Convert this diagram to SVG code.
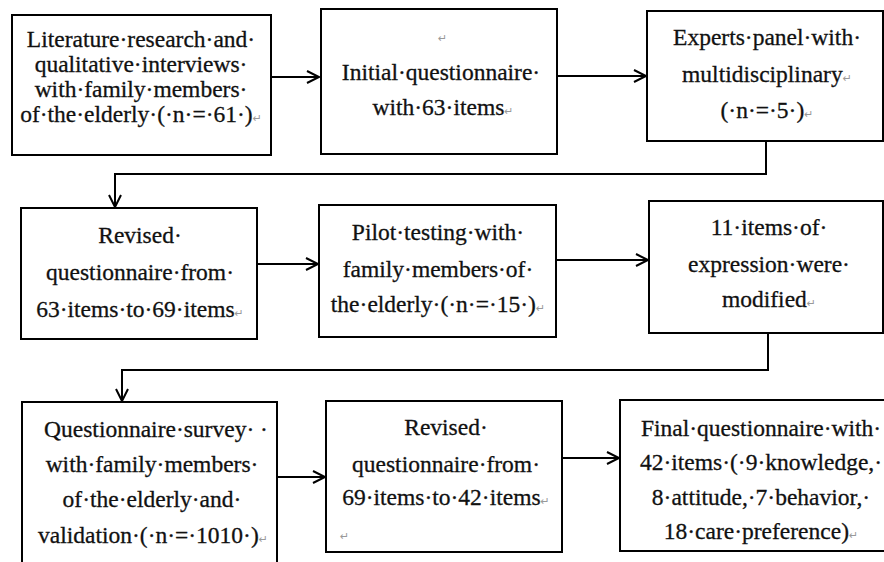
<svg xmlns="http://www.w3.org/2000/svg" width="884" height="562" viewBox="0 0 884 562">
<style>
.box{fill:#fff;stroke:#000;stroke-width:2}
.ln{fill:none;stroke:#000;stroke-width:2}
.t{font-family:'Liberation Serif','Times New Roman','DejaVu Serif',serif;font-size:23.5px;fill:#111;stroke:#111;stroke-width:0.3px;text-anchor:middle}
.pm{font-family:'DejaVu Sans',sans-serif;font-size:11px;fill:#999;stroke:none}
</style>
<defs>
<marker id="ah" markerUnits="userSpaceOnUse" markerWidth="16" markerHeight="16" refX="13" refY="7" orient="auto">
<path d="M1,1 L13,7 L1,13" fill="none" stroke="#000" stroke-width="2"/>
</marker>
</defs>
<rect width="884" height="562" fill="#fff"/>
<g id="connectors">
<path class="ln" d="M271,77 L319,77" marker-end="url(#ah)"/>
<path class="ln" d="M557,76 L646,76" marker-end="url(#ah)"/>
<path class="ln" d="M766,141 L766,174 L115,174 L115,207" marker-end="url(#ah)"/>
<path class="ln" d="M257,264 L318,264" marker-end="url(#ah)"/>
<path class="ln" d="M556,260 L648,260" marker-end="url(#ah)"/>
<path class="ln" d="M768,333 L768,370 L122,370 L122,401" marker-end="url(#ah)"/>
<path class="ln" d="M277,477 L325,477" marker-end="url(#ah)"/>
<path class="ln" d="M562,458 L619,458" marker-end="url(#ah)"/>
</g>
<g id="n1">
<rect class="box" x="12" y="15" width="259" height="140"/>
<text class="t" x="141" y="47">Literature·research·and·</text>
<text class="t" x="141" y="72">qualitative·interviews·</text>
<text class="t" x="141" y="97">with·family·members·</text>
<text class="t" x="141" y="122">of·the·elderly·(·n·=·61·)<tspan class="pm">↵</tspan></text>
</g>
<g id="n2">
<rect class="box" x="321" y="9" width="236" height="145"/>
<text class="pm" x="438" y="42">↵</text>
<text class="t" x="441" y="80">Initial·questionnaire·</text>
<text class="t" x="443" y="115">with·63·items<tspan class="pm">↵</tspan></text>
</g>
<g id="n3">
<rect class="box" x="647" y="11" width="236" height="130"/>
<text class="t" x="767" y="45">Experts·panel·with·</text>
<text class="t" x="767" y="82">multidisciplinary<tspan class="pm">↵</tspan></text>
<text class="t" x="767" y="118">(·n·=·5·)<tspan class="pm">↵</tspan></text>
</g>
<g id="n4">
<rect class="box" x="21" y="208" width="236" height="131"/>
<text class="t" x="140" y="243">Revised·</text>
<text class="t" x="140" y="280">questionnaire·from·</text>
<text class="t" x="140" y="317">63·items·to·69·items<tspan class="pm">↵</tspan></text>
</g>
<g id="n5">
<rect class="box" x="319" y="205" width="237" height="132"/>
<text class="t" x="438" y="240">Pilot·testing·with·</text>
<text class="t" x="438" y="277">family·members·of·</text>
<text class="t" x="438" y="312">the·elderly·(·n·=·15·)<tspan class="pm">↵</tspan></text>
</g>
<g id="n6">
<rect class="box" x="649" y="201" width="234" height="132"/>
<text class="t" x="769" y="235">11·items·of·</text>
<text class="t" x="769" y="272">expression·were·</text>
<text class="t" x="769" y="307">modified<tspan class="pm">↵</tspan></text>
</g>
<g id="n7">
<rect class="box" x="22" y="402" width="255" height="175"/>
<text class="t" x="156" y="437">Questionnaire·survey· ·</text>
<text class="t" x="152" y="472">with·family·members·</text>
<text class="t" x="152" y="507">of·the·elderly·and·</text>
<text class="t" x="153" y="543">validation·(·n·=·1010·)<tspan class="pm">↵</tspan></text>
</g>
<g id="n8">
<rect class="box" x="326" y="401" width="236" height="151"/>
<text class="t" x="446" y="435">Revised·</text>
<text class="t" x="446" y="472">questionnaire·from·</text>
<text class="t" x="446" y="505">69·items·to·42·items<tspan class="pm">↵</tspan></text>
<text class="pm" x="340" y="540">↵</text>
</g>
<g id="n9">
<rect class="box" x="620" y="400" width="282" height="151"/>
<text class="t" x="761" y="436">Final·questionnaire·with·</text>
<text class="t" x="761" y="470">42·items·(·9·knowledge,·</text>
<text class="t" x="761" y="505">8·attitude,·7·behavior,·</text>
<text class="t" x="761" y="539">18·care·preference)<tspan class="pm">↵</tspan></text>
</g>
</svg>
